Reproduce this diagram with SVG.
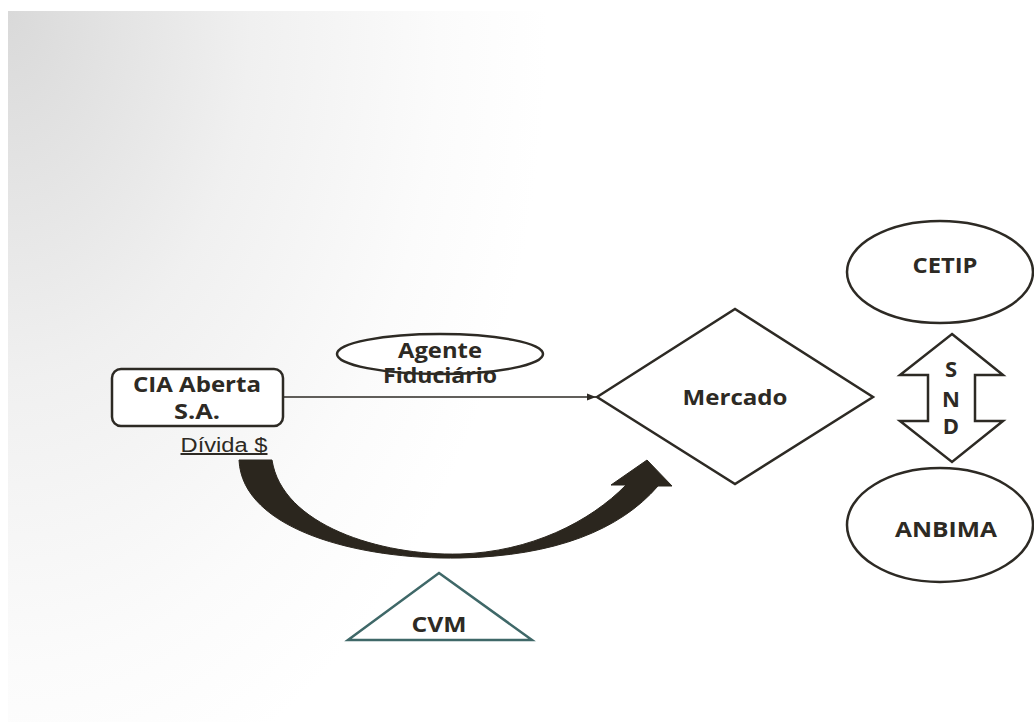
<svg xmlns="http://www.w3.org/2000/svg" width="1034" height="722" viewBox="0 0 1034 722">
<defs>
<radialGradient id="bg" gradientUnits="userSpaceOnUse" cx="0" cy="0" r="1" gradientTransform="translate(8,11) scale(540,820)">
<stop offset="0" stop-color="#d9d9d9"/>
<stop offset="0.45" stop-color="#f0f0f0"/>
<stop offset="0.8" stop-color="#fbfbfb"/>
<stop offset="1" stop-color="#ffffff"/>
</radialGradient>
<marker id="arr" markerWidth="10" markerHeight="8" refX="9" refY="4" orient="auto" markerUnits="userSpaceOnUse">
<path d="M0,0.5 L9,4 L0,7.5 Z" fill="#2d2a24"/>
</marker>
</defs>
<style>
.shape{fill:#ffffff;stroke:#2d2a24;stroke-width:2.5}
.lbl{font-family:"Open Sans","Liberation Sans",sans-serif;font-weight:bold;font-size:22px;fill:#2d2a24;text-anchor:middle}
.reg{font-family:"Liberation Sans",Arial,sans-serif;font-size:20px;fill:#2d2a24;text-anchor:middle;text-decoration:underline}
</style>
<rect x="8" y="11" width="1026" height="711" fill="url(#bg)"/>
<g id="connectors">
<line x1="283" y1="397" x2="596" y2="397" stroke="#2d2a24" stroke-width="1.5" marker-end="url(#arr)"/>
<path d="M239,460 C242,530 360,560 460,558 C555,556 620,530 658,486 L672,486 L647,460 L611,485 L626,485 C590,522 530,552 460,554 C380,556 282,525 272,460 Z" fill="#2b261e" stroke="#2b261e" stroke-width="1"/>
</g>
<g id="cia">
<rect class="shape" x="112" y="369" width="171" height="57" rx="9"/>
<text class="lbl" x="197" y="392" textLength="128" lengthAdjust="spacingAndGlyphs">CIA Aberta</text>
<text class="lbl" x="197" y="419" textLength="46" lengthAdjust="spacingAndGlyphs">S.A.</text>
</g>
<g id="divida">
<text class="reg" x="224" y="452" textLength="87" lengthAdjust="spacingAndGlyphs">Dívida $</text>
</g>
<g id="agente">
<ellipse class="shape" cx="440" cy="354" rx="103" ry="20" stroke-width="2"/>
<text class="lbl" x="440" y="358" textLength="84" lengthAdjust="spacingAndGlyphs">Agente</text>
<text class="lbl" x="440" y="383" textLength="114" lengthAdjust="spacingAndGlyphs">Fiduciário</text>
</g>
<g id="mercado">
<polygon class="shape" points="597,397 735,309 873,397 735,484" stroke-width="2"/>
<text class="lbl" x="735" y="405" textLength="105" lengthAdjust="spacingAndGlyphs">Mercado</text>
</g>
<g id="cetip">
<ellipse class="shape" cx="940" cy="272" rx="93" ry="51" stroke-width="2"/>
<text class="lbl" x="945" y="273" textLength="65" lengthAdjust="spacingAndGlyphs">CETIP</text>
</g>
<g id="snd">
<polygon class="shape" points="952,334 1003,375 975,375 975,421 1003,421 952,462 900,421 928,421 928,375 900,375" stroke-width="2"/>
<text class="lbl" x="951" y="377" font-size="19">S</text>
<text class="lbl" x="951" y="407" font-size="19">N</text>
<text class="lbl" x="951" y="434" font-size="19">D</text>
</g>
<g id="anbima">
<ellipse class="shape" cx="940" cy="525" rx="93" ry="57" stroke-width="2"/>
<text class="lbl" x="946" y="537" textLength="102" lengthAdjust="spacingAndGlyphs">ANBIMA</text>
</g>
<g id="cvm">
<polygon points="439,573 532,640 348,640" fill="#ffffff" stroke="#3f6868" stroke-width="2.5"/>
<text class="lbl" x="439" y="632" font-size="19" textLength="55" lengthAdjust="spacingAndGlyphs">CVM</text>
</g>
</svg>
